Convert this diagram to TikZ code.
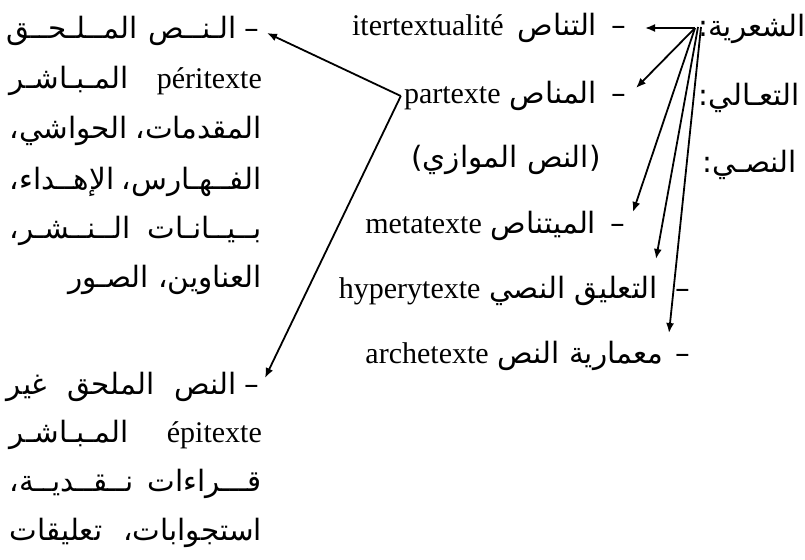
\documentclass[tikz,border=0pt]{standalone}
\usepackage{fontspec}
\setmainfont{Liberation Serif}
\newfontfamily\arfont[Script=Arabic,Scale=0.98]{DejaVu Sans}
\TeXXeTstate=1
\usetikzlibrary{arrows.meta}
\newcommand{\AR}[1]{{\arfont\beginR #1\endR}}
\newcommand{\JL}[1]{\hbox to 252pt{#1}}
\begin{document}
\begin{tikzpicture}[x=1pt,y=-1pt,
  txt/.style={inner sep=0pt, font=\fontsize{30}{36}\selectfont},
  lft/.style={txt, anchor=base east},
  con/.style={line width=1.8pt, -{Latex[length=10pt,width=8pt]}}]
\useasboundingbox (0,0) rectangle (805,559);
% right column
\node[lft] (shi) at (806,37) {\AR{الشعرية:}};
\node[lft] (taa) at (800,106) {\AR{التعـالي:}};
\node[lft] (nas) at (797,172) {\AR{النصـي:}};
% middle column
\node[lft] (it) at (626,36) {itertextualité\hspace{14pt}\AR{التناص}\hspace{14pt}\AR{–}};
\node[lft] (pa) at (626,104) {partexte\hspace{9pt}\AR{المناص}\hspace{14pt}\AR{–}};
\node[txt, anchor=base] (par) at (506,167) {\AR{(النص الموازي)}};
\node[lft] (me) at (625,233) {metatexte\hspace{9pt}\AR{الميتناص}\hspace{14pt}\AR{–}};
\node[lft] (hy) at (690,298) {hyperytexte\hspace{9pt}\AR{التعليق النصي}\hspace{17pt}\AR{–}};
\node[lft] (ar) at (690,363) {archetexte\hspace{9pt}\AR{معمارية النص}\hspace{12pt}\AR{–}};
% left column
\node[lft] (l1) at (259,39) {\JL{\AR{المــلـحــق}\hfill\AR{الـنــص}\ \AR{–}}};
\node[lft] (l2) at (262,89) {\JL{\AR{المـبـاشـر}\hfill péritexte}};
\node[lft] (l3) at (262,139) {\JL{\AR{الحواشي،}\hfill\AR{المقدمات،}}};
\node[lft] (l4) at (262,189) {\JL{\AR{الإهــداء،}\hfill\AR{الفــهـارس،}}};
\node[lft] (l5) at (262,238) {\JL{\AR{الــنــشـر،}\hfill\AR{بــيــانـات}}};
\node[lft] (l6) at (262,287) {\AR{العناوين، الصـور}};
\node[lft] (l7) at (259,394) {\JL{\AR{غير}\hfill\AR{الملحق}\hfill\AR{النص}\ \AR{–}}};
\node[lft] (l8) at (262,442) {\JL{\AR{المـبـاشـر}\hfill épitexte}};
\node[lft] (l9) at (262,491) {\JL{\AR{نــقــديــة،}\hfill\AR{قـــراءات}}};
\node[lft] (l10) at (262,540) {\JL{\AR{تعليقات}\hfill\AR{استجوابات،}}};
% connectors
\coordinate (o1) at (695,28);
\coordinate (o2) at (698,27);
\coordinate (o3) at (701,27);
\coordinate (j) at ([xshift=-3pt,yshift=8pt]pa.base west);
\draw[con] (o1) -- ([xshift=19pt,yshift=8pt]it.base east);
\draw[con] (o1) -- ([xshift=10pt,yshift=16pt]pa.base east);
\draw[con] (o1) -- ([xshift=8pt,yshift=21pt]me.base east);
\draw[con] (o2) -- ([xshift=-34pt,yshift=39pt]hy.base east);
\draw[con] (o3) -- ([xshift=-21pt,yshift=30pt]ar.base east);
\draw[con] (j) -- ([xshift=8pt,yshift=6pt]l1.base east);
\draw[con] (j) -- ([xshift=6pt,yshift=16pt]l7.base east);
\end{tikzpicture}
\end{document}
